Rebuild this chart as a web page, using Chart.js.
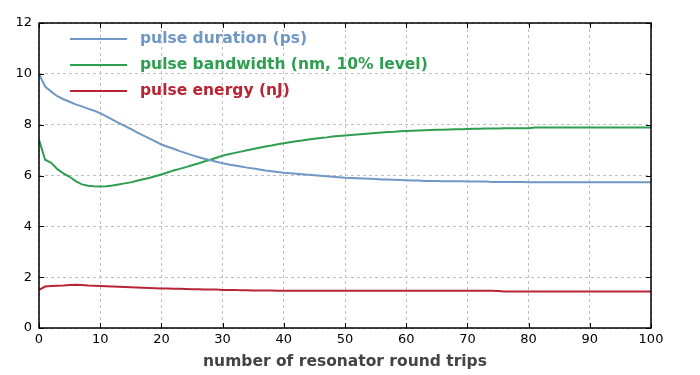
<!DOCTYPE html>
<html>
<head>
<meta charset="utf-8">
<script src="https://cdn.jsdelivr.net/npm/chart.js@4.4.1/dist/chart.umd.min.js"></script>
<style>
  html, body { margin: 0; padding: 0; background: #fff; }
  #wrap { width: 700px; height: 375px; }
</style>
</head>
<body>
<div id="wrap"><canvas id="chart" width="700" height="375"></canvas></div>
<script>
// round trips 0..100
const roundTrips = Array.from({length: 101}, (_, i) => i);

const durationPs = [
  10.0, 9.5, 9.3, 9.12, 9.0, 8.9, 8.8, 8.72, 8.63, 8.55,
  8.45, 8.33, 8.2, 8.07, 7.95, 7.83, 7.7, 7.58, 7.46, 7.34,
  7.22, 7.13, 7.05, 6.96, 6.88, 6.8, 6.73, 6.66, 6.6, 6.54,
  6.48, 6.43, 6.39, 6.35, 6.31, 6.28, 6.24, 6.2, 6.17, 6.14,
  6.11, 6.09, 6.07, 6.05, 6.03, 6.01, 5.99, 5.97, 5.95, 5.93,
  5.91, 5.9, 5.89, 5.88, 5.87, 5.86, 5.84, 5.84, 5.83, 5.82,
  5.81, 5.8, 5.8, 5.78, 5.78, 5.78, 5.77, 5.77, 5.77, 5.77,
  5.76, 5.76, 5.76, 5.76, 5.74, 5.74, 5.74, 5.74, 5.74, 5.74,
  5.73, 5.73, 5.73, 5.73, 5.73, 5.73, 5.73, 5.73, 5.73, 5.73,
  5.73, 5.73, 5.73, 5.73, 5.73, 5.73, 5.73, 5.73, 5.73, 5.73,
  5.73
];

const bandwidthNm = [
  7.4, 6.62, 6.5, 6.25, 6.08, 5.95, 5.78, 5.65, 5.6, 5.58,
  5.57, 5.58, 5.61, 5.65, 5.69, 5.73, 5.79, 5.85, 5.9, 5.97,
  6.04, 6.12, 6.2, 6.26, 6.33, 6.4, 6.47, 6.55, 6.62, 6.7,
  6.78, 6.84, 6.89, 6.94, 6.99, 7.04, 7.09, 7.14, 7.18, 7.23,
  7.27, 7.31, 7.35, 7.38, 7.42, 7.45, 7.48, 7.5, 7.53, 7.55,
  7.57, 7.59, 7.61, 7.63, 7.65, 7.67, 7.69, 7.71, 7.72, 7.74,
  7.75, 7.76, 7.77, 7.78, 7.79, 7.8, 7.8, 7.81, 7.82, 7.82,
  7.83, 7.84, 7.84, 7.85, 7.85, 7.85, 7.86, 7.86, 7.86, 7.86,
  7.86, 7.89, 7.89, 7.89, 7.89, 7.89, 7.89, 7.89, 7.89, 7.89,
  7.89, 7.89, 7.89, 7.89, 7.89, 7.89, 7.89, 7.89, 7.89, 7.89,
  7.89
];

const energyNJ = [
  1.5, 1.63, 1.65, 1.66, 1.67, 1.69, 1.7, 1.69, 1.67, 1.66,
  1.65, 1.64, 1.63, 1.62, 1.61, 1.6, 1.59, 1.58, 1.57, 1.56,
  1.55, 1.55, 1.54, 1.54, 1.53, 1.52, 1.52, 1.51, 1.51, 1.51,
  1.5, 1.5, 1.5, 1.49, 1.49, 1.48, 1.48, 1.48, 1.48, 1.47,
  1.47, 1.47, 1.47, 1.47, 1.47, 1.47, 1.47, 1.47, 1.47, 1.47,
  1.47, 1.47, 1.47, 1.47, 1.47, 1.47, 1.47, 1.47, 1.47, 1.47,
  1.47, 1.47, 1.47, 1.47, 1.47, 1.47, 1.47, 1.47, 1.47, 1.47,
  1.47, 1.47, 1.47, 1.47, 1.47, 1.46, 1.44, 1.44, 1.44, 1.44,
  1.44, 1.44, 1.44, 1.44, 1.44, 1.44, 1.44, 1.44, 1.44, 1.44,
  1.44, 1.44, 1.44, 1.44, 1.44, 1.44, 1.44, 1.44, 1.44, 1.44,
  1.44
];

const seriesLabels = ['pulse duration (ps)', 'pulse bandwidth (nm, 10% level)', 'pulse energy (nJ)'];
const seriesColors = ['#6f98c4', '#2e9e50', '#b82535'];
const seriesValues = [durationPs, bandwidthNm, energyNJ];

const xTitle = 'number of resonator round trips';
const FONT = 'DejaVu Sans, Verdana, sans-serif';

// legend inside the plot, gnuplot style
const insideLegend = {
  id: 'insideLegend',
  afterDraw(chart) {
    const ctx = chart.ctx;
    ctx.save();
    ctx.font = 'bold 15.5px ' + FONT;
    ctx.textBaseline = 'middle';
    chart.data.datasets.forEach((ds, i) => {
      const y = 39 + i * 26;
      ctx.strokeStyle = ds.borderColor;
      ctx.lineWidth = 2;
      ctx.beginPath();
      ctx.moveTo(70, y);
      ctx.lineTo(127, y);
      ctx.stroke();
      ctx.fillStyle = ds.borderColor;
      ctx.fillText(ds.label, 140, y);
    });
    ctx.restore();
  }
};

// black frame round the plot area, with small inward ticks
const frame = {
  id: 'frame',
  afterDatasetsDraw(chart) {
    const a = chart.chartArea;
    const ctx = chart.ctx;
    const xs = chart.scales.x, ys = chart.scales.y;
    ctx.save();
    ctx.strokeStyle = '#000';
    ctx.lineWidth = 1;
    ctx.beginPath();
    xs.ticks.forEach(t => {
      const px = Math.round(xs.getPixelForValue(t.value)) + 0.5;
      ctx.moveTo(px, a.bottom); ctx.lineTo(px, a.bottom - 5);
      ctx.moveTo(px, a.top); ctx.lineTo(px, a.top + 5);
    });
    ys.ticks.forEach(t => {
      const py = Math.round(ys.getPixelForValue(t.value)) + 0.5;
      ctx.moveTo(a.left, py); ctx.lineTo(a.left + 5, py);
      ctx.moveTo(a.right, py); ctx.lineTo(a.right - 5, py);
    });
    ctx.stroke();
    ctx.lineWidth = 1.5;
    ctx.strokeRect(a.left, a.top, a.right - a.left, a.bottom - a.top);
    ctx.restore();
  }
};

new Chart(document.getElementById('chart').getContext('2d'), {
  type: 'line',
  data: {
    datasets: seriesValues.map((vals, i) => ({
      label: seriesLabels[i],
      data: roundTrips.map((x, j) => ({x: x, y: vals[j]})),
      borderColor: seriesColors[i],
      borderWidth: 2,
      pointRadius: 0,
      tension: 0,
      fill: false
    }))
  },
  options: {
    responsive: false,
    animation: false,
    layout: { padding: { top: 23, right: 49, left: 0, bottom: 0 } },
    plugins: {
      legend: { display: false },
      tooltip: { enabled: false }
    },
    scales: {
      x: {
        type: 'linear',
        min: 0,
        max: 100,
        ticks: {
          stepSize: 10,
          color: '#000',
          font: { family: FONT, size: 13 },
          padding: 4
        },
        grid: { color: '#c0c0c0', drawTicks: false, tickLength: 0 },
        border: { display: false, dash: [3, 3] },
        title: {
          display: true,
          text: xTitle,
          color: '#444',
          font: { family: FONT, size: 15.5, weight: 'bold' },
          padding: { top: 0, bottom: 4 }
        },
        afterFit(scale) { scale.height = 47; }
      },
      y: {
        min: 0,
        max: 12,
        ticks: {
          stepSize: 2,
          color: '#000',
          font: { family: FONT, size: 13 },
          padding: 7
        },
        grid: { color: '#c0c0c0', drawTicks: false, tickLength: 0 },
        border: { display: false, dash: [3, 3] },
        afterFit(scale) { scale.width = 39; }
      }
    }
  },
  plugins: [insideLegend, frame]
});
</script>
</body>
</html>
